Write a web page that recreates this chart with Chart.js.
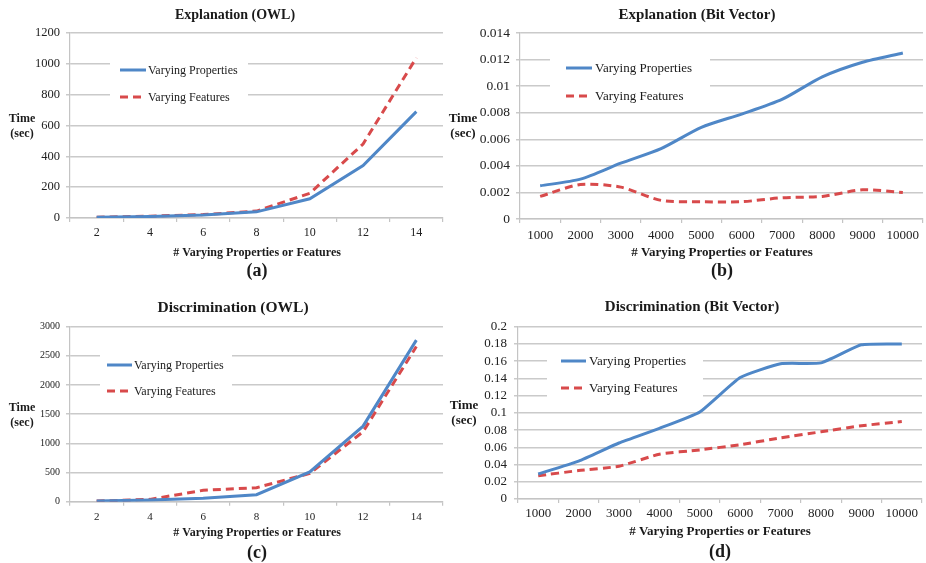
<!DOCTYPE html>
<html>
<head>
<meta charset="utf-8">
<script src="https://cdn.jsdelivr.net/npm/chart.js@4.4.1/dist/chart.umd.min.js"></script>
<style>
  html, body { margin: 0; padding: 0; background: #fff; }
  #page { position: relative; width: 926px; height: 563px; overflow: hidden; }
  .panel { position: absolute; }
</style>
</head>
<body>
<div id="page">
  <div class="panel" style="left:0;top:0"><canvas id="chartA" width="463" height="282"></canvas></div>
  <div class="panel" style="left:440px;top:0"><canvas id="chartB" width="486" height="282"></canvas></div>
  <div class="panel" style="left:0;top:282px"><canvas id="chartC" width="463" height="281"></canvas></div>
  <div class="panel" style="left:440px;top:282px"><canvas id="chartD" width="486" height="281"></canvas></div>
</div>
<script>
// x categories
const owlSizes = ['2', '4', '6', '8', '10', '12', '14'];
const bitSizes = ['1000', '2000', '3000', '4000', '5000', '6000', '7000', '8000', '9000', '10000'];

// (a) Explanation (OWL), seconds
const explOwlProps = [5, 10, 20, 40, 125, 340, 690];
const explOwlFeats = [5, 12, 22, 45, 160, 480, 1040];

// (b) Explanation (Bit Vector), seconds
const explBitProps = [0.0025, 0.0030, 0.0042, 0.0053, 0.0069, 0.0079, 0.0090, 0.0107, 0.0118, 0.0125];
const explBitFeats = [0.0017, 0.0026, 0.0024, 0.0014, 0.0013, 0.0013, 0.0016, 0.0017, 0.0022, 0.0020];

// (c) Discrimination (OWL), seconds
const discOwlProps = [10, 30, 60, 120, 510, 1295, 2770];
const discOwlFeats = [10, 40, 195, 240, 485, 1200, 2660];

// (d) Discrimination (Bit Vector), seconds
const discBitProps = [0.029, 0.044, 0.065, 0.082, 0.101, 0.141, 0.157, 0.158, 0.179, 0.180];
const discBitFeats = [0.027, 0.033, 0.038, 0.052, 0.057, 0.063, 0.071, 0.078, 0.085, 0.090];

// y ranges
const explOwlRange = { max: 1200, step: 200 };
const explBitRange = { max: 0.014, step: 0.002 };
const discOwlRange = { max: 3000, step: 500 };
const discBitRange = { max: 0.2, step: 0.02 };

const seriesNames = ['Varying Properties', 'Varying Features'];
const xTitle = '# Varying Properties or Features';

const BLUE = '#4f87c7';
const RED = '#d84a4b';
const SERIF = "'Liberation Serif', 'Times New Roman', serif";

// draws titles, the horizontal "Time (sec)" label, caption and the in-plot legend
const panelText = {
  id: 'panelText',
  afterDatasetsDraw(chart, args, o) {
    const ctx = chart.ctx;
    ctx.save();
    ctx.fillStyle = '#1a1a1a';
    ctx.textAlign = 'center';
    ctx.textBaseline = 'middle';

    ctx.font = 'bold ' + o.titleSize + 'px ' + SERIF;
    ctx.fillText(o.title, o.titleX, o.titleY);

    ctx.font = 'bold ' + o.labelSize + 'px ' + SERIF;
    ctx.fillText('Time', o.yLabelX, o.yLabelY);
    ctx.fillText('(sec)', o.yLabelX, o.yLabelY + 15);
    ctx.fillText(xTitle, o.xTitleX, o.xTitleY);

    ctx.font = 'bold 18px ' + SERIF;
    ctx.fillText(o.caption, o.xTitleX, o.captionY);

    // legend
    const lg = o.legend;
    ctx.fillStyle = '#fff';
    ctx.fillRect(lg.x0, lg.y0, lg.x1 - lg.x0, lg.y1 - lg.y0);
    chart.data.datasets.forEach((ds, i) => {
      const y = lg.rows[i];
      ctx.strokeStyle = ds.borderColor;
      ctx.lineWidth = ds.borderWidth;
      ctx.setLineDash(ds.borderDash || []);
      ctx.beginPath();
      ctx.moveTo(lg.sx0, y);
      ctx.lineTo(lg.sx1, y);
      ctx.stroke();
      ctx.setLineDash([]);
      ctx.fillStyle = '#1a1a1a';
      ctx.textAlign = 'left';
      ctx.font = lg.size + 'px ' + SERIF;
      ctx.fillText(ds.label, lg.tx, y + 1);
    });
    ctx.restore();
  }
};

function makeChart(id, labels, props, feats, range, tension, p) {
  const c = document.getElementById(id);
  const W = c.width, H = c.height;
  return new Chart(c, {
    type: 'line',
    data: {
      labels: labels,
      datasets: [
        { label: seriesNames[0], data: props, borderColor: BLUE, backgroundColor: BLUE,
          borderWidth: 3, pointRadius: 0, tension: tension, fill: false },
        { label: seriesNames[1], data: feats, borderColor: RED, backgroundColor: RED,
          borderWidth: 3, borderDash: [8, 5], pointRadius: 0, tension: tension, fill: false }
      ]
    },
    options: {
      responsive: false,
      animation: false,
      layout: { padding: { left: 0, top: p.area.top, right: W - p.area.right, bottom: 0 } },
      plugins: {
        legend: { display: false },
        tooltip: { enabled: false },
        panelText: p.text
      },
      scales: {
        x: {
          type: 'category',
          offset: true,
          afterFit: s => { s.height = H - p.area.bottom; },
          grid: { drawOnChartArea: false, drawTicks: true, tickLength: 4, color: '#c4c4c4', lineWidth: 1.2, offset: true },
          border: { display: true, color: '#c4c4c4', width: 1.2 },
          ticks: { color: '#222', font: { family: SERIF, size: p.xTickSize }, padding: p.xTickPad, maxRotation: 0, autoSkip: false }
        },
        y: {
          min: 0,
          max: range.max,
          afterFit: s => { s.width = p.area.left; },
          grid: { color: '#cacaca', lineWidth: 1.5, tickLength: 4 },
          border: { display: true, color: '#c4c4c4', width: 1.2 },
          ticks: {
            stepSize: range.step,
            autoSkip: false,
            color: '#222',
            padding: p.yTickPad,
            font: { family: SERIF, size: p.yTickSize },
            callback: v => String(+Number(v).toFixed(4))
          }
        }
      }
    },
    plugins: [panelText]
  });
}

makeChart('chartA', owlSizes, explOwlProps, explOwlFeats, explOwlRange, 0, {
  area: { left: 70, top: 33, right: 443, bottom: 218 },
  xTickSize: 12, yTickSize: 12.5, xTickPad: 4, yTickPad: 6,
  text: {
    title: 'Explanation (OWL)', titleSize: 14, titleX: 235, titleY: 15,
    labelSize: 12, yLabelX: 22, yLabelY: 119,
    xTitleX: 257, xTitleY: 253, caption: '(a)', captionY: 271,
    legend: { x0: 110, x1: 248, y0: 53, y1: 108, rows: [70, 97], sx0: 120, sx1: 146, tx: 148, size: 12 }
  }
});

makeChart('chartB', bitSizes, explBitProps, explBitFeats, explBitRange, 0.25, {
  area: { left: 80, top: 33, right: 483, bottom: 219 },
  xTickSize: 13, yTickSize: 13.5, xTickPad: 5, yTickPad: 6,
  text: {
    title: 'Explanation (Bit Vector)', titleSize: 15, titleX: 257, titleY: 15,
    labelSize: 13, yLabelX: 23, yLabelY: 119,
    xTitleX: 282, xTitleY: 253, caption: '(b)', captionY: 271,
    legend: { x0: 110, x1: 270, y0: 50, y1: 106, rows: [68, 96], sx0: 126, sx1: 152, tx: 155, size: 13 }
  }
});

makeChart('chartC', owlSizes, discOwlProps, discOwlFeats, discOwlRange, 0, {
  area: { left: 70, top: 44.7, right: 443, bottom: 219.7 },
  xTickSize: 11, yTickSize: 10, xTickPad: 5, yTickPad: 6,
  text: {
    title: 'Discrimination (OWL)', titleSize: 15.5, titleX: 233, titleY: 26,
    labelSize: 12, yLabelX: 22, yLabelY: 126,
    xTitleX: 257, xTitleY: 251, caption: '(c)', captionY: 271,
    legend: { x0: 100, x1: 232, y0: 66, y1: 120, rows: [83, 109], sx0: 107, sx1: 132, tx: 134, size: 12 }
  }
});

makeChart('chartD', bitSizes, discBitProps, discBitFeats, discBitRange, 0.15, {
  area: { left: 78, top: 44.7, right: 482, bottom: 217 },
  xTickSize: 13, yTickSize: 13, xTickPad: 3, yTickPad: 7,
  text: {
    title: 'Discrimination (Bit Vector)', titleSize: 15, titleX: 252, titleY: 25,
    labelSize: 13, yLabelX: 24, yLabelY: 124,
    xTitleX: 280, xTitleY: 250, caption: '(d)', captionY: 270,
    legend: { x0: 107, x1: 263, y0: 68, y1: 118, rows: [79, 106], sx0: 121, sx1: 146, tx: 149, size: 13 }
  }
});
</script>
</body>
</html>
